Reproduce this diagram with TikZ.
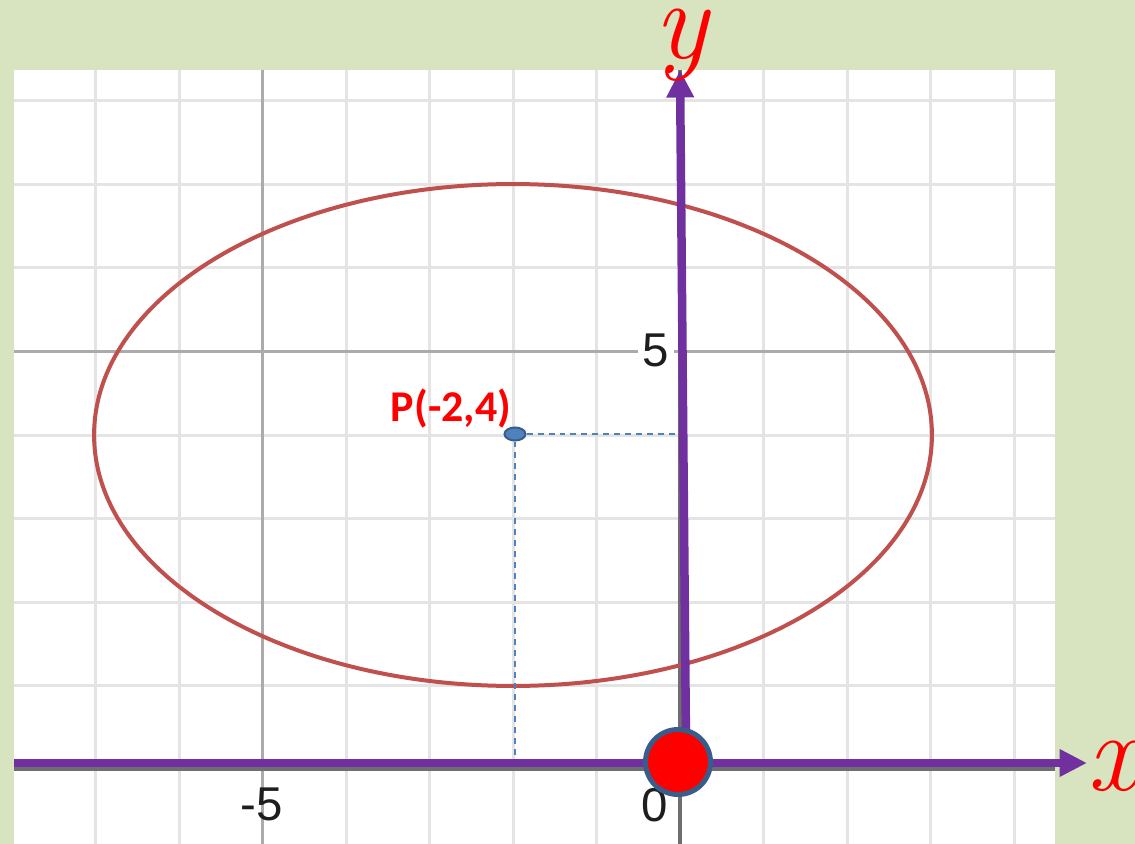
\documentclass[tikz,border=0pt]{standalone}
\usepackage{fontspec}
\setmainfont{Liberation Sans}
\newfontfamily\calibri{Carlito}
\newfontfamily\lmr{Latin Modern Roman}
\usetikzlibrary{arrows.meta,shapes.geometric}
\definecolor{bggreen}{HTML}{D8E4BF}
\definecolor{axpurple}{HTML}{7030A0}
\definecolor{ellred}{HTML}{C0504D}
\definecolor{dotblue}{HTML}{4F81BD}
\definecolor{dotborder}{HTML}{385D8A}
\definecolor{gridlight}{HTML}{E4E4E4}
\definecolor{gridmajor}{HTML}{ABABAB}
\definecolor{axgray}{HTML}{6E6E6E}
\definecolor{ticktext}{HTML}{1E1E1E}
\begin{document}
\begin{tikzpicture}[x=0.02cm,y=-0.02cm,
  gridline/.style={gridlight,line width=0.06cm},
  majorline/.style={gridmajor,line width=0.045cm},
  grayaxis/.style={axgray,line width=0.09cm},
  axisarrow/.style={axpurple,line width=0.17cm,-{Triangle[length=0.55cm,width=0.52cm]}},
  guide/.style={dotblue,line width=0.03cm,dash pattern=on 0.12cm off 0.1cm},
  ticklabel/.style={text=ticktext,font=\fontsize{27}{27}\selectfont,inner sep=1pt},
  axlabel/.style={text=red,font=\lmr\itshape\fontsize{64}{64}\selectfont,inner sep=0pt}]
\useasboundingbox (0,0) rectangle (1135,844);
\fill[bggreen] (0,0) rectangle (1135,844);
\fill[white] (14,70) rectangle (1055,844);
% grid
\foreach \i in {-7,...,4} {\draw[gridline] ({680+83.5*\i},70) -- ({680+83.5*\i},844);}
\foreach \j in {1,...,8} {\draw[gridline] (14,{769-83.5*\j}) -- (1055,{769-83.5*\j});}
\draw[majorline] (262.5,70) -- (262.5,844);
\draw[majorline] (14,351.5) -- (1055,351.5);
% graph axes (gray)
\draw[grayaxis] (14,769) -- (1055,769);
\draw[grayaxis] (680,70) -- (680,844);
% ellipse
\draw[ellred,line width=0.08cm] (513,435) ellipse [x radius=8.38cm, y radius=5.02cm];
% tick labels
\node[ticklabel] (tm5) at (262,804) {-5};
\node[ticklabel] (t0) at (655,805) {0};
\node[ticklabel,fill=white,inner xsep=3pt,inner ysep=0pt] (t5) at (656,350) {5};
% point P and guides
\node[ellipse,draw=dotborder,fill=dotblue,line width=0.04cm,minimum width=0.42cm,minimum height=0.26cm,inner sep=0pt] (P) at (515,434) {};
\coordinate (Py) at (678,434);
\coordinate (Px) at (515,764);
\draw[guide] (P.east) -- (Py);
\draw[guide] (P.south) -- (Px);
\node[text=red,font=\calibri\bfseries\fontsize{25}{25}\selectfont,inner sep=0pt] (Plabel) at (451,409) {P(-2,4)};
% purple axes
\coordinate (xstart) at (14,763);
\coordinate (xend) at (1087,763);
\coordinate (ystart) at (686,745);
\coordinate (yend) at (680,70);
\draw[axisarrow] (xstart) -- (xend);
\draw[axisarrow] (ystart) -- (yend);
% origin dot
\node[circle,draw=dotborder,fill=red,line width=0.1cm,minimum size=1.3cm,inner sep=0pt] (O) at (678,762) {};
% axis labels
\node[axlabel] (ylab) at (681,45) {y};
\node[axlabel] (xlab) at (1113,766) {x};
\end{tikzpicture}
\end{document}
